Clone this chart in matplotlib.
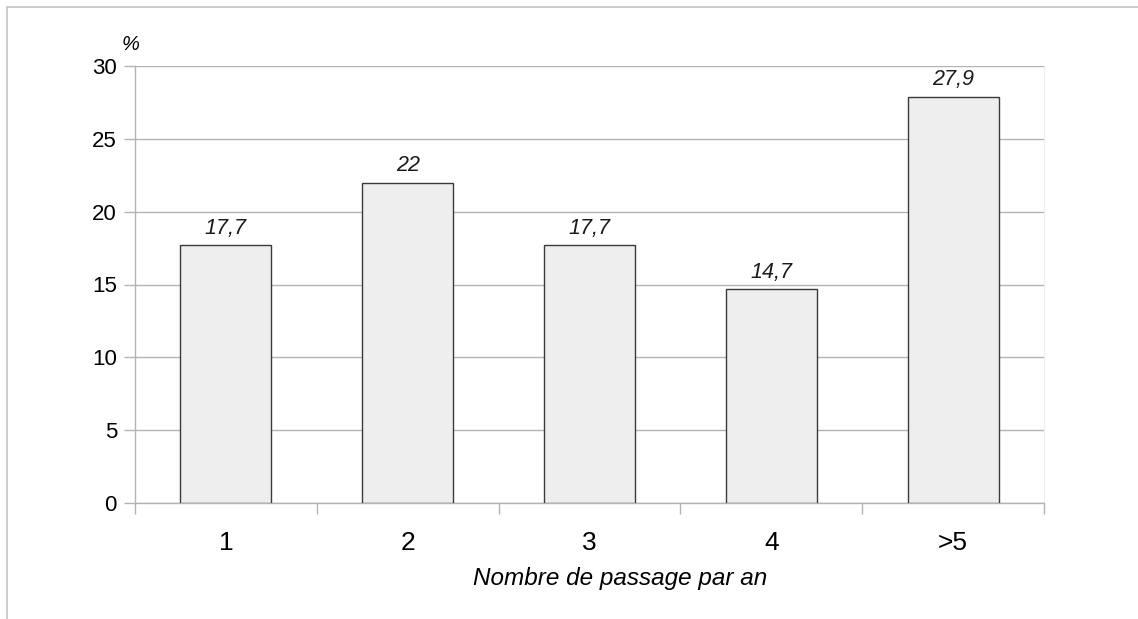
import matplotlib
matplotlib.use("Agg")
import matplotlib.pyplot as plt
from matplotlib.patches import Rectangle

# Data
categories = ["1", "2", "3", "4", ">5"]
values = [17.7, 22, 17.7, 14.7, 27.9]
value_labels = ["17,7", "22", "17,7", "14,7", "27,9"]
y_ticks = [0, 5, 10, 15, 20, 25, 30]

plt.rcParams["font.family"] = ["Liberation Sans", "DejaVu Sans"]

W, H = 1138, 619
fig = plt.figure(figsize=(W / 100, H / 100), dpi=100)

# outer frame (only top and left edges visible, rest is cropped)
fig.patches.append(Rectangle((7 / W, -0.2), 1.5, 1 - 7 / H + 0.2,
                             transform=fig.transFigure, fill=False,
                             edgecolor="#c3c3c3", linewidth=1.2))

ax = fig.add_axes([135 / W, 1 - 503 / H, (1044 - 135) / W, (503 - 66) / H])

x = list(range(len(categories)))
ax.bar(x, values, width=0.5, color="#eeeeee", edgecolor="#3a3a3a",
       linewidth=1.0, zorder=3)

for xi, v, lab in zip(x, values, value_labels):
    ax.annotate(lab, (xi, v), xytext=(0, 4.5), textcoords="offset points",
                ha="center", va="bottom", fontsize=15.5, style="italic",
                color="#1a1a1a")

ax.set_xlim(-0.5, len(categories) - 0.5)
ax.set_ylim(0, 30)
ax.set_yticks(y_ticks)
ax.set_yticklabels([str(t) for t in y_ticks], fontsize=16)
ax.yaxis.grid(True, color="#b3b3b3", linewidth=1.0, zorder=0)

ax.set_xticks(x)
ax.set_xticklabels(categories, fontsize=19)
ax.set_xticks([i - 0.5 for i in range(len(categories) + 1)], minor=True)
ax.tick_params(axis="x", which="major", length=0, pad=20)
ax.tick_params(axis="x", which="minor", length=8, color="#b3b3b3", width=1)
ax.tick_params(axis="y", length=8, color="#b3b3b3", width=1, pad=5)

for side in ("left", "bottom"):
    ax.spines[side].set_color("#b3b3b3")
    ax.spines[side].set_linewidth(1.0)
ax.spines["top"].set_visible(False)
ax.spines["right"].set_color("#eeeeee")

ax.text(0.5336, 1 - (579 - 66) / (503 - 66), "Nombre de passage par an",
        transform=ax.transAxes, fontsize=17.5, style="italic",
        ha="center", va="center")
ax.text(-0.005, 1.028, "%", transform=ax.transAxes, fontsize=14.5,
        style="italic", ha="center", va="bottom")

fig.savefig("out.png", dpi=100)
